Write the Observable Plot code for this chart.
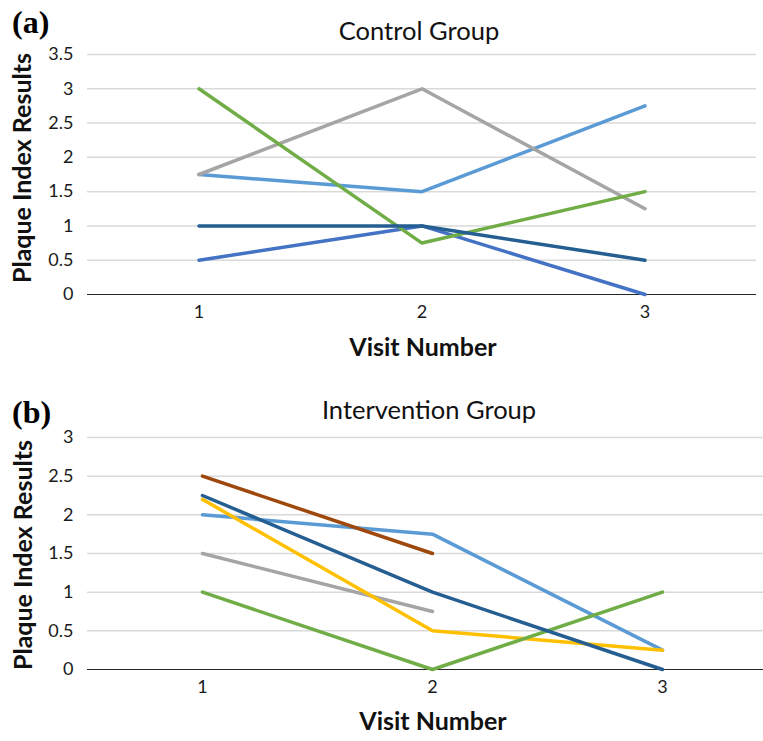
<!DOCTYPE html>
<html><head><meta charset="utf-8">
<script src="https://cdn.jsdelivr.net/npm/d3@7"></script>
<script src="https://cdn.jsdelivr.net/npm/@observablehq/plot@0.6"></script>
<style>
body{margin:0;background:#fff;}
#wrap{position:relative;width:763px;height:741px;overflow:hidden;background:#fff;font-family:Lato,sans-serif;}
.panel{position:absolute;left:0;width:763px;overflow:hidden;}
.t{position:absolute;white-space:nowrap;color:#111;transform:translate(-50%,-50%);line-height:1;}
.tag{position:absolute;white-space:nowrap;color:#000;font-family:"Liberation Serif",serif;font-weight:bold;line-height:1;transform:translate(0,-50%);}
.ttl{font-size:25.5px;}
.xl{font-size:25px;font-weight:bold;}
.yl{font-size:25px;font-weight:bold;transform:translate(-50%,-50%) rotate(-90deg);}
</style></head>
<body>
<div id="wrap">
  <div class="panel" id="pa" style="top:0;height:370px;"></div>
  <div class="panel" id="pb" style="top:370px;height:371px;"></div>
  <div class="tag" style="left:12px;top:22px;font-size:32px;">(a)</div>
  <div class="t ttl" style="left:419px;top:31px;">Control Group</div>
  <div class="t yl" style="left:21px;top:168px;">Plaque Index Results</div>
  <div class="t xl" style="left:423px;top:346px;">Visit Number</div>
  <div class="tag" style="left:12px;top:412px;font-size:32px;">(b)</div>
  <div class="t ttl" style="left:429px;top:410px;">Intervention Group</div>
  <div class="t yl" style="left:22px;top:555px;">Plaque Index Results</div>
  <div class="t xl" style="left:433px;top:720px;">Visit Number</div>
</div>
<script>
const visits = [1, 2, 3];
const xTickLabels = ["1", "2", "3"];

// Control group (a)
const controlNames  = ["A1", "A2", "A3", "A4", "A5"];
const controlColors = ["#5B9BD5", "#A5A5A5", "#4472C4", "#70AD47", "#255E91"];
const controlLightBlue = [1.75, 1.5, 2.75];
const controlGray      = [1.75, 3, 1.25];
const controlBlue      = [0.5, 1, 0];
const controlGreen     = [3, 0.75, 1.5];
const controlDarkBlue  = [1, 1, 0.5];
const controlYTicks = [0, 0.5, 1, 1.5, 2, 2.5, 3, 3.5];

// Intervention group (b)
const interNames  = ["B1", "B2", "B3", "B4", "B5", "B6"];
const interColors = ["#5B9BD5", "#A5A5A5", "#FFC000", "#70AD47", "#255E91", "#9E480E"];
const interLightBlue = [2, 1.75, 0.25];
const interGray      = [1.5, 0.75, null];
const interYellow    = [2.2, 0.5, 0.25];
const interGreen     = [1, 0, 1];
const interDarkBlue  = [2.25, 1, 0];
const interBrown     = [2.5, 1.5, null];
const interYTicks = [0, 0.5, 1, 1.5, 2, 2.5, 3];

function toRows(names, colors, seriesList) {
  const rows = [];
  seriesList.forEach((vals, i) => {
    vals.forEach((v, j) => {
      if (v != null) rows.push({series: names[i], color: colors[i], visit: visits[j], value: v});
    });
  });
  return rows;
}

function makePanel({rows, yTicks, width, height, marginTop, marginBottom, marginRight}) {
  const yMax = yTicks[yTicks.length - 1];
  return Plot.plot({
    width, height, marginLeft: 87, marginRight, marginTop, marginBottom,
    style: {fontFamily: "Lato, sans-serif", fontSize: "18px", color: "#1a1a1a", background: "#fff"},
    x: {domain: [0.5, 3.5], ticks: visits, tickSize: 0, tickPadding: 11, tickFormat: d => xTickLabels[visits.indexOf(d)], label: null},
    y: {domain: [0, yMax], ticks: yTicks, tickSize: 0, tickPadding: 14, tickFormat: d => String(d), label: null},
    color: {type: "identity"},
    marks: [
      Plot.ruleY(yTicks.filter(v => v > 0), {stroke: "#D9D9D9", strokeWidth: 1.5}),
      Plot.ruleY([0], {stroke: "#262626", strokeWidth: 1.2}),
      Plot.line(rows, {x: "visit", y: "value", z: "series", stroke: "color", strokeWidth: 3.5, strokeLinejoin: "round", strokeLinecap: "round"})
    ]
  });
}

const rowsA = toRows(controlNames, controlColors,
  [controlLightBlue, controlGray, controlBlue, controlGreen, controlDarkBlue]);
const rowsB = toRows(interNames, interColors,
  [interLightBlue, interGray, interYellow, interGreen, interDarkBlue, interBrown]);

document.getElementById("pa").appendChild(makePanel({
  rows: rowsA, yTicks: controlYTicks, width: 763, height: 370, marginTop: 54, marginBottom: 76, marginRight: 7
}));
document.getElementById("pb").appendChild(makePanel({
  rows: rowsB, yTicks: interYTicks, width: 777, height: 371, marginTop: 67, marginBottom: 72, marginRight: 0
}));
document.querySelectorAll(".panel svg").forEach(s => { s.style.maxWidth = "none"; });
</script>
</body></html>
